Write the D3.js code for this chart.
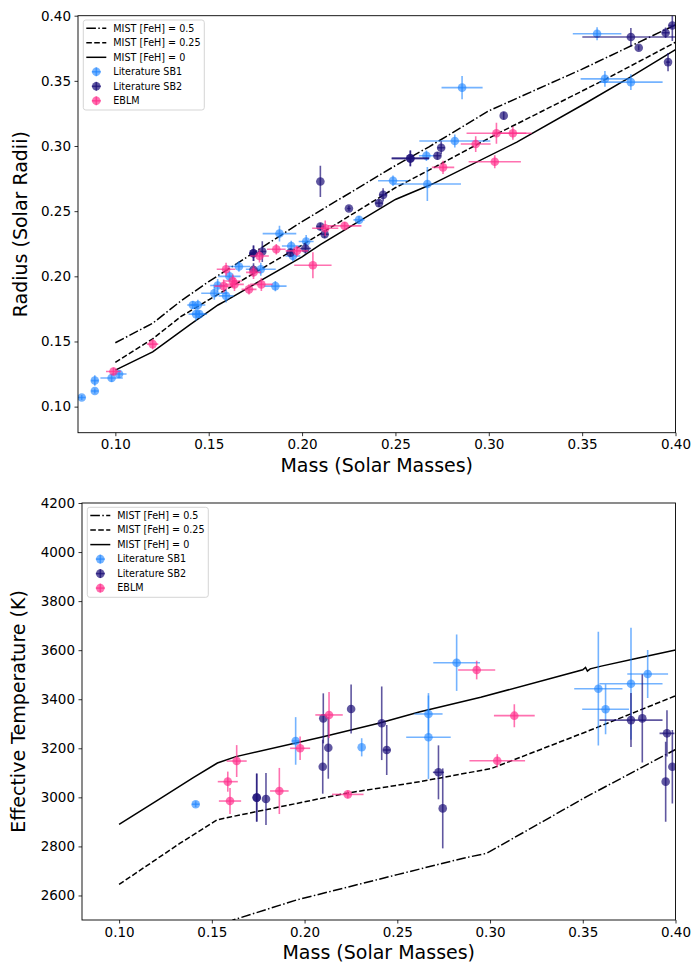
<!DOCTYPE html>
<html>
<head>
<meta charset="utf-8">
<script src="https://cdn.jsdelivr.net/npm/d3@7"></script>
<style>
  body { margin: 0; background: #fff; }
  text { font-family: "DejaVu Sans", sans-serif; }
</style>
</head>
<body>
<svg id="fig" width="691" height="963"></svg>
<script>
// ---- MIST isochrones: mass–radius ----
const mistMassR05 = [0.10, 0.12, 0.135, 0.15, 0.161, 0.20, 0.25, 0.268, 0.30, 0.35, 0.40];
const mistRad05   = [0.149, 0.164, 0.181, 0.196, 0.206, 0.242, 0.285, 0.2994, 0.327, 0.359, 0.393];
const mistMassR025 = [0.10, 0.12, 0.135, 0.15, 0.20, 0.25, 0.268, 0.304, 0.3622, 0.40];
const mistRad025   = [0.134, 0.152, 0.169, 0.182, 0.224, 0.268, 0.2815, 0.309, 0.351, 0.3796];
const mistMassR0 = [0.10, 0.12, 0.14, 0.155, 0.16, 0.20, 0.21, 0.25, 0.27, 0.315, 0.352, 0.376, 0.40];
const mistRad0   = [0.128, 0.142, 0.163, 0.178, 0.182, 0.215, 0.2245, 0.259, 0.271, 0.303, 0.333, 0.353, 0.374];

// ---- MIST isochrones: mass–Teff ----
const mistMassT05 = [0.10, 0.13, 0.15, 0.1615, 0.1958, 0.25, 0.2856, 0.2982, 0.3521, 0.40];
const mistTeff05  = [2210, 2350, 2445, 2500, 2582, 2685, 2752, 2772, 3003, 3195];
const mistMassT025 = [0.10, 0.1329, 0.1527, 0.16, 0.2227, 0.2623, 0.3009, 0.3521, 0.40];
const mistTeff025  = [2645, 2813, 2908, 2920, 3017, 3064, 3118, 3268, 3414];
const mistMassT0 = [0.10, 0.12, 0.14, 0.153, 0.163, 0.21, 0.24, 0.2623, 0.295, 0.35, 0.3515, 0.3525, 0.354, 0.36, 0.38, 0.40];
const mistTeff0  = [2890, 2985, 3080, 3140, 3166, 3247, 3302, 3349, 3408, 3520, 3530, 3515, 3524, 3535, 3568, 3601];

// ---- measured stars: [mass, mass err, radius, radius err] ----
const sb1Radius = [
  [0.082, 0.002, 0.107, 0.002], [0.089, 0.002, 0.112, 0.002], [0.089, 0.002, 0.120, 0.004],
  [0.098, 0.006, 0.122, 0.003], [0.102, 0.004, 0.125, 0.003], [0.1415, 0.003, 0.178, 0.003],
  [0.1442, 0.004, 0.178, 0.004], [0.1432, 0.004, 0.171, 0.005], [0.145, 0.004, 0.171, 0.003],
  [0.153, 0.007, 0.187, 0.005], [0.1548, 0.004, 0.193, 0.005], [0.1593, 0.004, 0.185, 0.005],
  [0.1611, 0.006, 0.200, 0.004], [0.1662, 0.006, 0.2075, 0.004], [0.1779, 0.008, 0.2054, 0.005],
  [0.1857, 0.006, 0.1925, 0.004], [0.1879, 0.009, 0.2328, 0.006], [0.1942, 0.005, 0.2233, 0.004],
  [0.1951, 0.004, 0.2156, 0.004], [0.2022, 0.004, 0.2267, 0.005], [0.2305, 0.003, 0.2433, 0.003],
  [0.2487, 0.008, 0.2733, 0.004], [0.2666, 0.004, 0.2925, 0.004], [0.2671, 0.018, 0.2708, 0.013],
  [0.2818, 0.019, 0.3038, 0.005], [0.2857, 0.011, 0.3448, 0.009], [0.358, 0.013, 0.3862, 0.005],
  [0.3622, 0.013, 0.3515, 0.006], [0.3761, 0.017, 0.3490, 0.006]
];
const sb2Radius = [
  [0.2098, 0, 0.2728, 0.012], [0.258, 0.010, 0.2905, 0.006], [0.258, 0.010, 0.2905, 0.006],
  [0.2434, 0.002, 0.2625, 0.005], [0.2412, 0.002, 0.2562, 0.003], [0.2251, 0.001, 0.2521, 0.002],
  [0.2098, 0.002, 0.2382, 0.003], [0.2121, 0.002, 0.2323, 0.003], [0.2018, 0.003, 0.2213, 0.004],
  [0.1938, 0.002, 0.2182, 0.003], [0.1787, 0.002, 0.2190, 0.008], [0.174, 0.002, 0.2177, 0.006],
  [0.174, 0.002, 0.2177, 0.006], [0.174, 0.001, 0.205, 0.005], [0.3080, 0, 0.3233, 0.003],
  [0.2745, 0.002, 0.2987, 0.005], [0.2725, 0.002, 0.2925, 0.003], [0.3761, 0.026, 0.3836, 0.007],
  [0.3947, 0.002, 0.3869, 0.004], [0.3983, 0.002, 0.3925, 0.012], [0.3803, 0, 0.3754, 0.002],
  [0.396, 0.001, 0.3644, 0.007]
];
const eblmRadius = [
  [0.099, 0.004, 0.127, 0.003], [0.120, 0.003, 0.148, 0.004], [0.158, 0.005, 0.1925, 0.005],
  [0.1593, 0.005, 0.2054, 0.005], [0.1629, 0.005, 0.1964, 0.005], [0.1638, 0.005, 0.1938, 0.005],
  [0.1716, 0.004, 0.19, 0.004], [0.174, 0.004, 0.203, 0.005], [0.1772, 0.005, 0.2156, 0.005],
  [0.1782, 0.006, 0.1938, 0.005], [0.1862, 0.005, 0.2208, 0.004], [0.1972, 0.006, 0.2195, 0.004],
  [0.2058, 0.010, 0.2085, 0.010], [0.2124, 0.007, 0.2369, 0.006], [0.2228, 0.009, 0.2387, 0.003],
  [0.2755, 0.006, 0.2836, 0.005], [0.293, 0.008, 0.3015, 0.006], [0.3032, 0.014, 0.2879, 0.005],
  [0.3041, 0.016, 0.3098, 0.008], [0.3129, 0.010, 0.3098, 0.005]
];

// ---- measured stars: [mass, mass err, Teff, Teff err] ----
const sb1Teff = [
  [0.1413, 0.002, 2972, 12], [0.1952, 0.002, 3230, 97], [0.2308, 0, 3204, 37],
  [0.2668, 0.0076, 3340, 85], [0.2668, 0.012, 3245, 170], [0.2820, 0.0126, 3549, 115],
  [0.3584, 0.013, 3443, 232], [0.3623, 0.0126, 3359, 102], [0.3760, 0.017, 3463, 228],
  [0.3850, 0.011, 3503, 98]
];
const sb2Teff = [
  [0.1742, 0, 2999, 98], [0.1742, 0, 2999, 98], [0.1792, 0, 2993, 106],
  [0.2101, 0, 3322, 102], [0.2098, 0, 3125, 110], [0.2128, 0, 3202, 126],
  [0.2251, 0, 3360, 100], [0.2416, 0, 3302, 150], [0.2443, 0.002, 3193, 102],
  [0.2722, 0.003, 3102, 110], [0.2745, 0, 2955, 163], [0.3760, 0.017, 3315, 110],
  [0.3821, 0, 3322, 180], [0.3954, 0.004, 3261, 94], [0.3947, 0, 3064, 163],
  [0.3983, 0, 3125, 150]
];
const eblmTeff = [
  [0.1586, 0.0054, 3064, 41], [0.1598, 0.006, 2985, 53], [0.1634, 0.0054, 3148, 65],
  [0.1864, 0.005, 3026, 94], [0.1976, 0.0054, 3200, 48], [0.2132, 0.0074, 3336, 94],
  [0.2233, 0.0085, 3012, 16], [0.2928, 0.010, 3519, 38], [0.3131, 0.011, 3333, 47],
  [0.3039, 0.015, 3149, 27]
];

// ---- tick labels ----
const massTicks = [0.10, 0.15, 0.20, 0.25, 0.30, 0.35, 0.40];
const radiusTicks = [0.10, 0.15, 0.20, 0.25, 0.30, 0.35, 0.40];
const teffTicks = [2600, 2800, 3000, 3200, 3400, 3600, 3800, 4000, 4200];

const legendLabels = ["MIST [FeH] = 0.5", "MIST [FeH] = 0.25", "MIST [FeH] = 0",
                      "Literature SB1", "Literature SB2", "EBLM"];

// ---- styles ----
const lineDash = { "0.5": "9.6,2.4,1.5,2.4", "0.25": "5.55,2.4", "0": null };
const seriesStyle = {
  sb1:  { color: "#1f85ff", alpha: 0.62 },
  sb2:  { color: "#1c0f78", alpha: 0.70 },
  eblm: { color: "#ff2d8a", alpha: 0.68 }
};

const svg = d3.select("#fig");

function drawPanel(cfg) {
  const x = d3.scaleLinear().domain([0.08, 0.40]).range([cfg.left, cfg.right]);
  const y = d3.scaleLinear().domain(cfg.yDomain).range([cfg.bottom, cfg.top]);
  const g = svg.append("g");

  const clipId = "clip-" + cfg.id;
  svg.append("clipPath").attr("id", clipId).append("rect")
    .attr("x", cfg.left).attr("y", cfg.top)
    .attr("width", cfg.right - cfg.left).attr("height", cfg.bottom - cfg.top);
  const plot = g.append("g").attr("clip-path", `url(#${clipId})`);

  // isochrones
  const line = d3.line().x(d => x(d[0])).y(d => y(d[1]));
  cfg.curves.forEach(c => {
    const pts = c.mass.map((m, i) => [m, c.val[i]]);
    plot.append("path").datum(pts).attr("d", line)
      .attr("fill", "none").attr("stroke", "#000").attr("stroke-width", 1.5)
      .attr("stroke-dasharray", c.dash);
  });

  // error-bar points
  cfg.series.forEach(s => {
    const st = seriesStyle[s.key];
    const gs = plot.append("g");
    s.data.forEach(d => {
      const [m, dm, v, dv] = d;
      const p = gs.append("g");
      if (dm > 0) p.append("line")
        .attr("x1", x(m - dm)).attr("x2", x(m + dm)).attr("y1", y(v)).attr("y2", y(v))
        .attr("stroke", st.color).attr("stroke-opacity", st.alpha).attr("stroke-width", 1.6);
      if (dv > 0) p.append("line")
        .attr("x1", x(m)).attr("x2", x(m)).attr("y1", y(v - dv)).attr("y2", y(v + dv))
        .attr("stroke", st.color).attr("stroke-opacity", st.alpha).attr("stroke-width", 1.6);
      p.append("circle").attr("cx", x(m)).attr("cy", y(v)).attr("r", 4.3)
        .attr("fill", st.color).attr("fill-opacity", st.alpha);
    });
  });

  // axes
  const xAxis = d3.axisBottom(x).tickValues(massTicks).tickFormat(d3.format(".2f"))
    .tickSize(3.5).tickPadding(3.5).tickSizeOuter(0);
  const yAxis = d3.axisLeft(y).tickValues(cfg.yTicks).tickFormat(cfg.yFormat)
    .tickSize(3.5).tickPadding(3.5).tickSizeOuter(0);
  const gx = g.append("g").attr("transform", `translate(0,${cfg.bottom})`).call(xAxis);
  const gy = g.append("g").attr("transform", `translate(${cfg.left},0)`).call(yAxis);
  [gx, gy].forEach(a => {
    a.select(".domain").remove();
    a.selectAll(".tick line").attr("stroke", "#000").attr("stroke-width", 0.8);
    a.selectAll(".tick text").attr("font-size", 13.5).attr("fill", "#000")
      .attr("font-family", "DejaVu Sans, sans-serif");
  });

  g.append("rect").attr("x", cfg.left).attr("y", cfg.top)
    .attr("width", cfg.right - cfg.left).attr("height", cfg.bottom - cfg.top)
    .attr("fill", "none").attr("stroke", "#000").attr("stroke-width", 0.9);

  // axis titles
  g.append("text").attr("x", (cfg.left + cfg.right) / 2).attr("y", cfg.bottom + 39)
    .attr("text-anchor", "middle").attr("font-size", 19).text("Mass (Solar Masses)");
  g.append("text")
    .attr("transform", `translate(${cfg.ylabelX},${(cfg.top + cfg.bottom) / 2}) rotate(-90)`)
    .attr("text-anchor", "middle").attr("font-size", 19).text(cfg.ylabel);

  // legend
  const lx = cfg.left + 5.3, ly = cfg.top + 4.3, rowH = 14.5;
  const lg = g.append("g");
  lg.append("rect").attr("x", lx).attr("y", ly).attr("width", 121).attr("height", 90)
    .attr("rx", 2.5).attr("fill", "#fff").attr("fill-opacity", 0.8)
    .attr("stroke", "#d0d0d0").attr("stroke-width", 0.9);
  const dashes = [lineDash["0.5"], lineDash["0.25"], lineDash["0"]];
  const keys = ["sb1", "sb2", "eblm"];
  legendLabels.forEach((lab, i) => {
    const cy = ly + 8.3 + i * rowH;
    if (i < 3) {
      lg.append("line").attr("x1", lx + 3).attr("x2", lx + 23).attr("y1", cy).attr("y2", cy)
        .attr("stroke", "#000").attr("stroke-width", 1.5).attr("stroke-dasharray", dashes[i]);
    } else {
      const st = seriesStyle[keys[i - 3]];
      const mx = lx + 13;
      lg.append("line").attr("x1", mx - 4.5).attr("x2", mx + 4.5).attr("y1", cy).attr("y2", cy)
        .attr("stroke", st.color).attr("stroke-opacity", st.alpha).attr("stroke-width", 1.6);
      lg.append("line").attr("x1", mx).attr("x2", mx).attr("y1", cy - 4.5).attr("y2", cy + 4.5)
        .attr("stroke", st.color).attr("stroke-opacity", st.alpha).attr("stroke-width", 1.6);
      lg.append("circle").attr("cx", mx).attr("cy", cy).attr("r", 4.3)
        .attr("fill", st.color).attr("fill-opacity", st.alpha);
    }
    lg.append("text").attr("x", lx + 30).attr("y", cy).attr("dy", "0.35em")
      .attr("font-size", 9.6).attr("fill", "#000").text(lab);
  });
}

drawPanel({
  id: "radius", left: 78, right: 675.5, top: 15.7, bottom: 432.7,
  yDomain: [0.08, 0.40], yTicks: radiusTicks, yFormat: d3.format(".2f"),
  ylabel: "Radius (Solar Radii)", ylabelX: 27,
  curves: [
    { mass: mistMassR05, val: mistRad05, dash: lineDash["0.5"] },
    { mass: mistMassR025, val: mistRad025, dash: lineDash["0.25"] },
    { mass: mistMassR0, val: mistRad0, dash: lineDash["0"] }
  ],
  series: [
    { key: "sb1", data: sb1Radius },
    { key: "sb2", data: sb2Radius },
    { key: "eblm", data: eblmRadius }
  ]
});

drawPanel({
  id: "teff", left: 82, right: 675.5, top: 503, bottom: 920,
  yDomain: [2500, 4200], yTicks: teffTicks, yFormat: d3.format("d"),
  ylabel: "Effective Temperature (K)", ylabelX: 25,
  curves: [
    { mass: mistMassT05, val: mistTeff05, dash: lineDash["0.5"] },
    { mass: mistMassT025, val: mistTeff025, dash: lineDash["0.25"] },
    { mass: mistMassT0, val: mistTeff0, dash: lineDash["0"] }
  ],
  series: [
    { key: "sb1", data: sb1Teff },
    { key: "sb2", data: sb2Teff },
    { key: "eblm", data: eblmTeff }
  ]
});
</script>
</body>
</html>
